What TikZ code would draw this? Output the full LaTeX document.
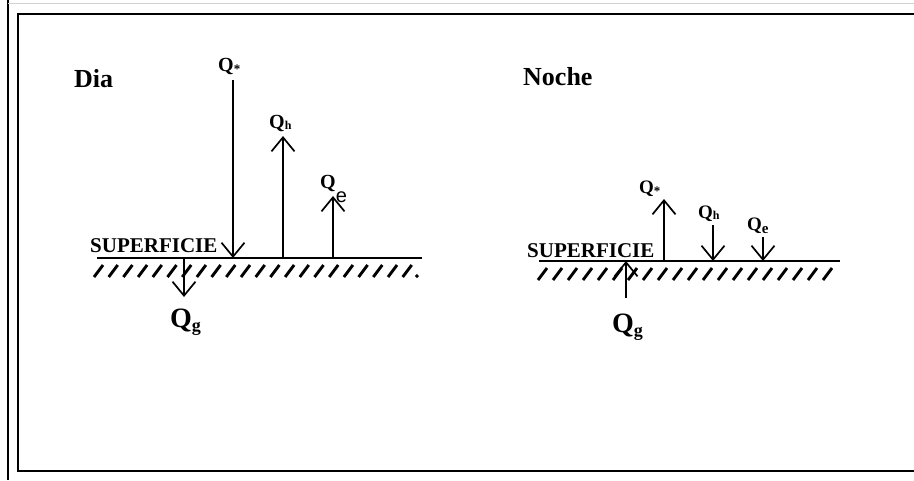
\documentclass[tikz,border=0pt]{standalone}
\usepackage{fontspec}
\setmainfont{Liberation Serif}
\newfontfamily\arialfont{Liberation Sans}
\usetikzlibrary{arrows.meta}
\newcommand\fsz[1]{\fontsize{#1}{#1}\selectfont}
\begin{document}
\begin{tikzpicture}[x=1pt,y=-1pt,
  flux/.style={line width=1.7pt,-{Straight Barb[length=14pt,width=23pt,line width=1.7pt]}},
  ground/.style={line width=2pt},
  hatch/.style={line width=2.9pt},
  txt/.style={inner sep=0pt,anchor=base west,font=\bfseries},
  frame/.style={line width=2.2pt}]
\useasboundingbox (0,0) rectangle (914,480);
% frames
\draw[line width=1.6pt] (8,0) -- (8,480);
\draw[gray!35,line width=1pt] (8,3) -- (914,3);
\draw[frame] (920,14) -- (18,14) -- (18,471) -- (920,471);

% ---------- Dia ----------
\node[txt,font=\bfseries\fsz{26}] (dia) at (74,87) {Dia};
\node[txt,font=\bfseries\fsz{21}] (sup1) at (90,252) {SUPERFICIE};
\coordinate (g1a) at (97,258);
\coordinate (g1b) at (422,258);
\draw[ground] (g1a) -- (g1b);
\foreach \i in {0,...,21} {
  \draw[hatch] (94+\i*14.7,277) -- (103+\i*14.7,265);
}
\draw[hatch] (416,277) -- (418,275);

\coordinate (s1t) at (233,80);   \coordinate (s1b) at (233,258);
\coordinate (h1b) at (283,258);  \coordinate (h1t) at (283,136);
\coordinate (e1b) at (333,258);  \coordinate (e1t) at (333,196);
\coordinate (q1t) at (184,258);  \coordinate (q1b) at (184,297);
\draw[flux] (s1t) -- (s1b);
\draw[flux] (h1b) -- (h1t);
\draw[flux] (e1b) -- (e1t);
\draw[flux] (q1t) -- (q1b);

\node[txt] (qs1) at (218,71) {\fsz{20}Q\raisebox{-2pt}{\fsz{13}*}};
\node[txt] (qh1) at (269,128) {\fsz{20}Q\raisebox{-1pt}{\fsz{12}h}};
\node[txt] (qe1) at (320,188) {\fsz{20}Q\raisebox{-14pt}{\mdseries\arialfont\fsz{20}e}};
\node[txt] (qg1) at (170,327) {\fsz{28}Q\raisebox{-4pt}{\fsz{18}g}};

% ---------- Noche ----------
\node[txt,font=\bfseries\fsz{26}] (noche) at (523,85) {Noche};
\node[txt,font=\bfseries\fsz{21}] (sup2) at (527,257) {SUPERFICIE};
\coordinate (g2a) at (539,261);
\coordinate (g2b) at (840,261);
\draw[ground] (g2a) -- (g2b);
\foreach \i in {0,...,19} {
  \draw[hatch] (538+\i*15,280) -- (547+\i*15,268);
}

\coordinate (s2b) at (664,261);  \coordinate (s2t) at (664,199);
\coordinate (h2t) at (713,225);  \coordinate (h2b) at (713,261);
\coordinate (e2t) at (763,237);  \coordinate (e2b) at (763,261);
\coordinate (q2b) at (626,298);  \coordinate (q2t) at (626,261);
\draw[flux] (s2b) -- (s2t);
\draw[flux] (h2t) -- (h2b);
\draw[flux] (e2t) -- (e2b);
\draw[flux] (q2b) -- (q2t);

\node[txt] (qs2) at (639,193) {\fsz{19}Q\raisebox{-2pt}{\fsz{13}*}};
\node[txt] (qh2) at (698,218) {\fsz{19}Q\raisebox{-1pt}{\fsz{12}h}};
\node[txt] (qe2) at (747,230) {\fsz{19}Q\raisebox{-3pt}{\fsz{15}e}};
\node[txt] (qg2) at (612,332) {\fsz{28}Q\raisebox{-4pt}{\fsz{18}g}};
\end{tikzpicture}
\end{document}
